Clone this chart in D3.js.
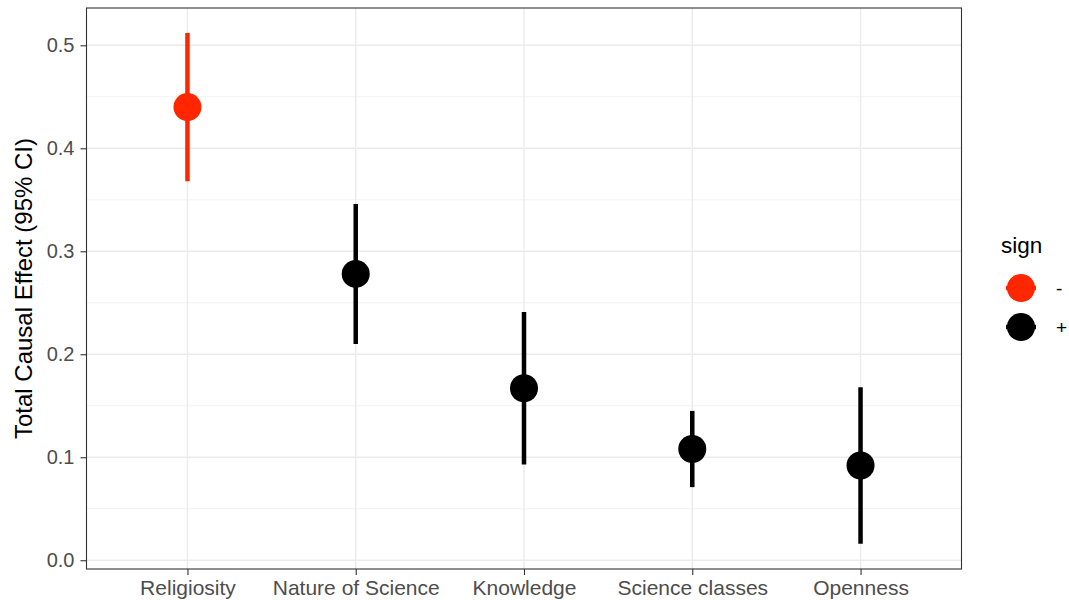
<!DOCTYPE html>
<html><head><meta charset="utf-8">
<script src="https://cdn.jsdelivr.net/npm/d3@7"></script>
<style>body{margin:0;background:#fff}svg{display:block}text{font-family:"Liberation Sans",Arial,sans-serif}</style>
</head><body><svg id="c" width="1069" height="600"></svg>
<script>
const categories = ["Religiosity","Nature of Science","Knowledge","Science classes","Openness"];
const estimates = [0.440, 0.278, 0.167, 0.108, 0.092];
const lower = [0.368, 0.210, 0.093, 0.071, 0.016];
const upper = [0.512, 0.346, 0.241, 0.145, 0.168];
const signs = ["-","+","+","+","+"];
const yTicks = [0.0,0.1,0.2,0.3,0.4,0.5];
const yMinor = [0.05,0.15,0.25,0.35,0.45];
const legendLevels = ["-","+"];
const colors = {"-":"#ff2600","+":"#000000"};

const svg = d3.select("#c");
const L=86.5, R=961.5, T=8, B=569;
const y = d3.scaleLinear().domain([-0.0085,0.5362]).range([B,T]);
const x = d3.scalePoint().domain(categories).range([L,R]).padding(0.6);

// grid
svg.append("g").selectAll("line").data(yMinor).join("line")
  .attr("x1",L).attr("x2",R).attr("y1",d=>y(d)).attr("y2",d=>y(d))
  .attr("stroke","#ebebeb").attr("stroke-width",0.7);
svg.append("g").selectAll("line").data(yTicks).join("line")
  .attr("x1",L).attr("x2",R).attr("y1",d=>y(d)).attr("y2",d=>y(d))
  .attr("stroke","#ebebeb").attr("stroke-width",1.4);
svg.append("g").selectAll("line").data(categories).join("line")
  .attr("x1",d=>x(d)).attr("x2",d=>x(d)).attr("y1",T).attr("y2",B)
  .attr("stroke","#ebebeb").attr("stroke-width",1.4);

// data
const data = categories.map((c,i)=>({c,e:estimates[i],lo:lower[i],hi:upper[i],s:signs[i]}));
svg.append("g").selectAll("line").data(data).join("line")
  .attr("x1",d=>x(d.c)).attr("x2",d=>x(d.c)).attr("y1",d=>y(d.lo)).attr("y2",d=>y(d.hi))
  .attr("stroke",d=>colors[d.s]).attr("stroke-width",4.5);
svg.append("g").selectAll("circle").data(data).join("circle")
  .attr("cx",d=>x(d.c)).attr("cy",d=>y(d.e)).attr("r",14)
  .attr("fill",d=>colors[d.s]);

// border
svg.append("rect").attr("x",L).attr("y",T).attr("width",R-L).attr("height",B-T)
  .attr("fill","none").attr("stroke","#333333").attr("stroke-width",1.1);

// axes
const ya = svg.append("g").attr("transform",`translate(${L},0)`)
  .call(d3.axisLeft(y).tickValues(yTicks).tickFormat(d3.format(".1f")).tickSize(6).tickPadding(6));
const xa = svg.append("g").attr("transform",`translate(0,${B})`)
  .call(d3.axisBottom(x).tickSize(6).tickPadding(5));
[ya,xa].forEach(a=>{
  a.select(".domain").remove();
  a.selectAll(".tick line").attr("stroke","#333333").attr("stroke-width",1.1);
  a.selectAll(".tick text").attr("fill","#4d4d4d").style("font-family","Liberation Sans, Arial, sans-serif");
});
ya.selectAll(".tick text").style("font-size","20px");
xa.selectAll(".tick text").style("font-size","21px");

// y title
svg.append("text").attr("transform",`translate(32,${(T+B)/2}) rotate(-90)`)
  .attr("text-anchor","middle").style("font-size","24px").attr("fill","#000")
  .text("Total Causal Effect (95% CI)");

// legend
svg.append("text").attr("x",1001).attr("y",253).style("font-size","22.5px").text("sign");
const lg = svg.append("g").selectAll("g").data(legendLevels).join("g")
  .attr("transform",(d,i)=>`translate(1021,${288+i*39})`);
lg.append("line").attr("x1",-15).attr("x2",15).attr("stroke",d=>colors[d]).attr("stroke-width",4.5);
lg.append("circle").attr("r",14).attr("fill",d=>colors[d]);
lg.append("text").attr("x",35).attr("y",7).style("font-size","19px").text(d=>d);
</script></body></html>
